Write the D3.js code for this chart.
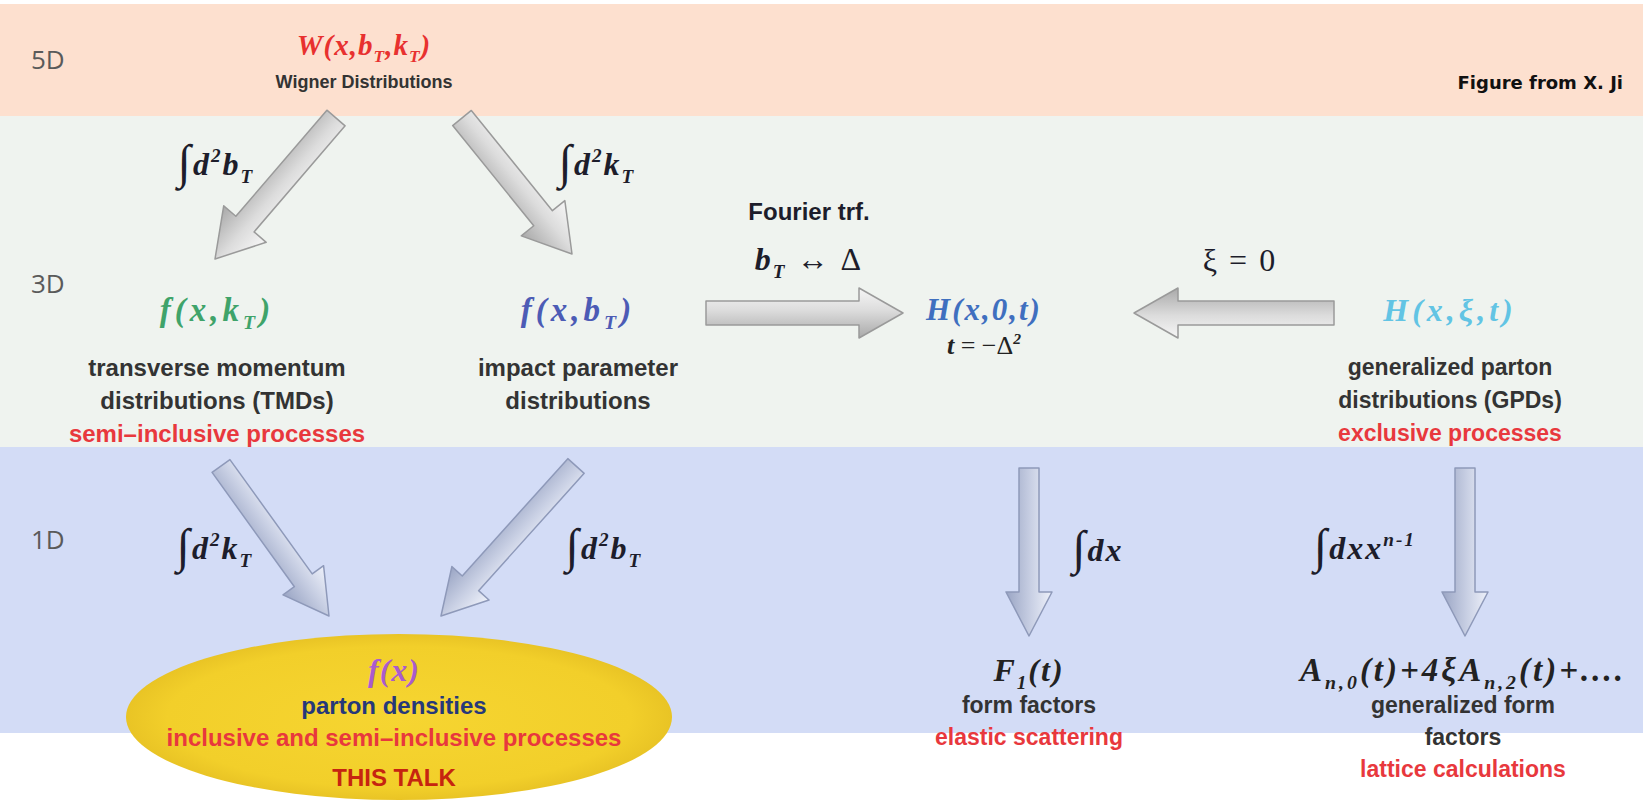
<!DOCTYPE html>
<html>
<head>
<meta charset="utf-8">
<script src="https://cdn.jsdelivr.net/npm/d3@7"></script>
<style>
  body { margin: 0; background: #fff; }
  svg { display: block; }
  .lbl { font-family: "Liberation Sans", Arial, sans-serif; font-weight: bold; }
  .math { font-family: "Liberation Serif", "Times New Roman", serif; font-style: italic; font-weight: bold; }
  .lvl { font-family: "Open Sans", "DejaVu Sans", sans-serif; }
</style>
</head>
<body>
<script>
let svgWidth = 1647;
let svgHeight = 800;

// the three levels of the diagram
let levels = ["5D", "3D", "1D"];

// nodes: formula + caption lines
let nodeNames = ["wigner", "tmd", "ipd", "h0", "gpd", "pdf", "ff", "gff"];
let nodeLevels = ["5D", "3D", "3D", "3D", "3D", "1D", "1D", "1D"];
let nodeFormulas = [
  [["W(x,b"], ["T", "sub"], [",k"], ["T", "sub"], [")"]],
  [["f(x,k"], ["T", "sub"], [")"]],
  [["f(x,b"], ["T", "sub"], [")"]],
  [["H(x,0,t)"]],
  [["H(x,ξ,t)"]],
  [["f(x)"]],
  [["F"], ["1", "sub"], ["(t)"]],
  [["A"], ["n,0", "sub"], ["(t)+4ξA"], ["n,2", "sub"], ["(t)+...."]]
];
let nodeLines = [
  [["Wigner Distributions", "text"]],
  [["transverse momentum", "text"], ["distributions (TMDs)", "text"], ["semi\u2013inclusive processes", "red"]],
  [["impact parameter", "text"], ["distributions", "text"]],
  [[[["t"], [" = \u2212\u0394", "rm"], ["2", "sup"]], "math"]],
  [["generalized parton", "text"], ["distributions (GPDs)", "text"], ["exclusive processes", "red"]],
  [["parton densities", "navy"], ["inclusive and semi\u2013inclusive processes", "red"], ["THIS TALK", "talk"]],
  [["form factors", "text"], ["elastic scattering", "red"]],
  [["generalized form", "text"], ["factors", "text"], ["lattice calculations", "red"]]
];

// arrows between nodes and their labels
let arrowFrom = ["wigner", "wigner", "ipd", "gpd", "tmd", "ipd", "h0", "gpd"];
let arrowTo = ["tmd", "ipd", "h0", "h0", "pdf", "pdf", "ff", "gff"];
let arrowLabels = [
  [[["\u222B", "int"], ["d"], ["2", "sup"], ["b"], ["T", "sub"]]],
  [[["\u222B", "int"], ["d"], ["2", "sup"], ["k"], ["T", "sub"]]],
  [[["Fourier trf.", "plain"]], [["b", "it"], ["T", "sub"], [" \u2194 \u0394", "rm"]]],
  [[["\u03BE = 0", "rm"]]],
  [[["\u222B", "int"], ["d"], ["2", "sup"], ["k"], ["T", "sub"]]],
  [[["\u222B", "int"], ["d"], ["2", "sup"], ["b"], ["T", "sub"]]],
  [[["\u222B", "int"], ["dx"]]],
  [[["\u222B", "int"], ["dxx"], ["n-1", "sup"]]]
];

// ---- layout ----
let x = d3.scaleLinear().domain([0, 1647]).range([0, svgWidth]);
let y = d3.scaleLinear().domain([0, 800]).range([0, svgHeight]);

let bandTop = d3.scaleOrdinal().domain(levels).range([4, 116, 447]);
let bandBottom = d3.scaleOrdinal().domain(levels).range([116, 447, 733]);
let bandFill = d3.scaleOrdinal().domain(levels).range(["#fde0cf", "#eff3ef", "#d3dcf6"]);
let levelLabelY = d3.scaleOrdinal().domain(levels).range([60, 284, 540]);
let formulaY = d3.scaleOrdinal().domain(levels).range([45, 310, 670]);
let firstLineY = d3.scaleOrdinal().domain(levels).range([82, 367, 705]);
let lineGap = d3.scaleOrdinal().domain(levels).range([30, 33, 32]);

let nodeX = d3.scaleOrdinal().domain(nodeNames)
  .range([364, 217, 578, 984, 1450, 394, 1029, 1463]);
let nodeFont = d3.scaleOrdinal().domain(nodeNames)
  .range([18, 24, 24, 24, 23, 24, 23, 23]);
let formulaFont = d3.scaleOrdinal().domain(nodeNames)
  .range([29, 33, 33, 31, 32, 32, 32, 33]);
let formulaSpacing = d3.scaleOrdinal().domain(nodeNames)
  .range([1, 4, 4, 2, 4, 1, 2, 3]);
let formulaColor = d3.scaleOrdinal().domain(nodeNames)
  .range(["#e8312f", "#3fa36a", "#4c5bb5", "#3f6fbf", "#62c4e4", "#a95ccd", "#222", "#222"]);
let lineColor = { text: "#333", red: "#e8383d", navy: "#26387a", talk: "#c62410", math: "#222" };

// arrow geometry: [tailX, tailY, tipX, tipY, shaft, head, headLen]
let arrowGeom = [
  [336, 118, 215, 259, 24, 56, 46],
  [462, 118, 572, 254, 24, 56, 46],
  [706, 313, 903, 313, 24, 50, 44],
  [1334, 313, 1134, 313, 24, 50, 44],
  [221, 466, 329, 616, 22, 50, 44],
  [576, 466, 441, 616, 22, 50, 44],
  [1029, 468, 1029, 636, 20, 46, 44],
  [1465, 468, 1465, 636, 20, 46, 44]
];
let arrowLabelPos = [[216, 164], [597, 164], [809, 212], [1240, 260], [215, 548], [604, 548], [1098, 550], [1365, 548]];

let svg = d3.select('body')
  .append('svg')
  .attr('width', svgWidth)
  .attr('height', svgHeight);

let defs = svg.append('defs');
function grad(id, stops) {
  let g = defs.append('linearGradient').attr('id', id)
    .attr('x1', 0).attr('y1', 0).attr('x2', 0).attr('y2', 1);
  stops.forEach(s => g.append('stop').attr('offset', s[0]).attr('stop-color', s[1]));
}
grad('arrowGrey', [[0, '#f6f6f6'], [0.45, '#dcdcdc'], [1, '#a9a9a9']]);
grad('arrowBlue', [[0, '#eef1fa'], [0.45, '#c9d0e4'], [1, '#9aa5c4']]);

let ellGrad = defs.append('radialGradient').attr('id', 'ellGrad');
ellGrad.append('stop').attr('offset', 0).attr('stop-color', '#f6d531');
ellGrad.append('stop').attr('offset', 0.85).attr('stop-color', '#f2cf2a');
ellGrad.append('stop').attr('offset', 1).attr('stop-color', '#e9c425');

// bands
svg.selectAll('.band')
  .data(levels)
  .enter()
  .append('rect')
  .attr('class', 'band')
  .attr('x', x(0))
  .attr('width', x(1643))
  .attr('y', d => y(bandTop(d)))
  .attr('height', d => y(bandBottom(d)) - y(bandTop(d)))
  .attr('fill', d => bandFill(d));

svg.selectAll('.lvl')
  .data(levels)
  .enter()
  .append('text')
  .attr('class', 'lvl')
  .attr('x', x(31))
  .attr('y', d => y(levelLabelY(d)) + 9)
  .attr('fill', '#5a5a5a')
  .style('font-size', '26px')
  .text(d => d);

svg.append('text')
  .attr('x', x(1623))
  .attr('y', y(83) + 6)
  .attr('text-anchor', 'end')
  .style('font-family', '"DejaVu Sans", sans-serif')
  .style('font-weight', 'bold')
  .style('font-size', '18px')
  .attr('fill', '#111')
  .text('Figure from X. Ji');

// ellipse behind f(x)
svg.append('ellipse')
  .attr('cx', x(399))
  .attr('cy', y(717))
  .attr('rx', 273)
  .attr('ry', 83)
  .attr('fill', 'url(#ellGrad)');

// arrows
function arrowPath(len, s, h, hl) {
  return `M0,${-s / 2}L${len - hl},${-s / 2}L${len - hl},${-h / 2}L${len},0L${len - hl},${h / 2}L${len - hl},${s / 2}L0,${s / 2}Z`;
}
arrowGeom.forEach((a, i) => {
  let x1 = x(a[0]), y1 = y(a[1]), x2 = x(a[2]), y2 = y(a[3]);
  let len = Math.hypot(x2 - x1, y2 - y1);
  let ang = Math.atan2(y2 - y1, x2 - x1) * 180 / Math.PI;
  let blue = a[1] > 440;
  svg.append('path')
    .attr('transform', `translate(${x1},${y1}) rotate(${ang})`)
    .attr('d', arrowPath(len, a[4], a[5], a[6]))
    .attr('fill', blue ? 'url(#arrowBlue)' : 'url(#arrowGrey)')
    .attr('stroke', blue ? '#8e99b9' : '#9a9a9a')
    .attr('stroke-width', 1.5)
    .attr('stroke-linejoin', 'round');
});

// formula writer
function writeFormula(text, segs, fs) {
  let shift = 0;
  segs.forEach(seg => {
    let kind = seg[1] || 'n';
    let target = 0, size = fs;
    if (kind === 'sub') { target = fs * 0.25; size = fs * 0.6; }
    if (kind === 'sup') { target = -fs * 0.4; size = fs * 0.6; }
    if (kind === 'int') { size = fs * 1.5; target = fs * 0.12; }
    let t = text.append('tspan')
      .attr('dy', target - shift)
      .style('font-size', size + 'px')
      .text(seg[0]);
    if (kind === 'rm') t.style('font-style', 'normal').style('font-weight', 'normal');
    if (kind === 'int') t.style('font-style', 'normal').style('font-weight', 'normal');
    if (kind === 'plain') t.attr('class', 'lbl').style('font-style', 'normal');
    shift = target;
  });
}

// nodes
nodeNames.forEach((name, i) => {
  let lev = nodeLevels[i];
  let cx = x(nodeX(name));
  let fs = formulaFont(name);
  let ft = svg.append('text')
    .attr('class', 'math')
    .attr('x', cx)
    .attr('y', y(formulaY(lev)) + fs * 0.33)
    .attr('text-anchor', 'middle')
    .attr('fill', formulaColor(name))
    .style('letter-spacing', formulaSpacing(name) + 'px')
    .style('font-size', fs + 'px');
  writeFormula(ft, nodeFormulas[i], fs);

  let lfs = nodeFont(name);
  nodeLines[i].forEach((line, j) => {
    let ly = name === 'h0' ? 345 : firstLineY(lev) + j * lineGap(lev);
    if (name === 'pdf' && j === 2) ly += 8;
    let t = svg.append('text')
      .attr('x', cx)
      .attr('text-anchor', 'middle')
      .attr('fill', lineColor[line[1]]);
    if (line[1] === 'math') {
      t.attr('class', 'math').attr('y', y(ly) + 9).style('font-size', '26px');
      writeFormula(t, line[0], 26);
    } else {
      t.attr('class', 'lbl')
        .attr('y', y(ly) + lfs * 0.36)
        .style('font-size', lfs + 'px')
        .text(line[0]);
    }
  });
});

// arrow labels
arrowLabels.forEach((lines, i) => {
  let p = arrowLabelPos[i];
  lines.forEach((segs, j) => {
    let plain = segs[0][1] === 'plain';
    let fs = plain ? 24 : 32;
    let t = svg.append('text')
      .attr('class', 'math')
      .attr('x', x(p[0]))
      .attr('y', y(p[1] + j * 47) + fs * 0.33)
      .attr('text-anchor', 'middle')
      .attr('fill', '#1d1d2b')
      .style('letter-spacing', plain ? '0px' : '2px')
      .style('font-size', fs + 'px');
    writeFormula(t, segs, fs);
  });
});
</script>
</body>
</html>
